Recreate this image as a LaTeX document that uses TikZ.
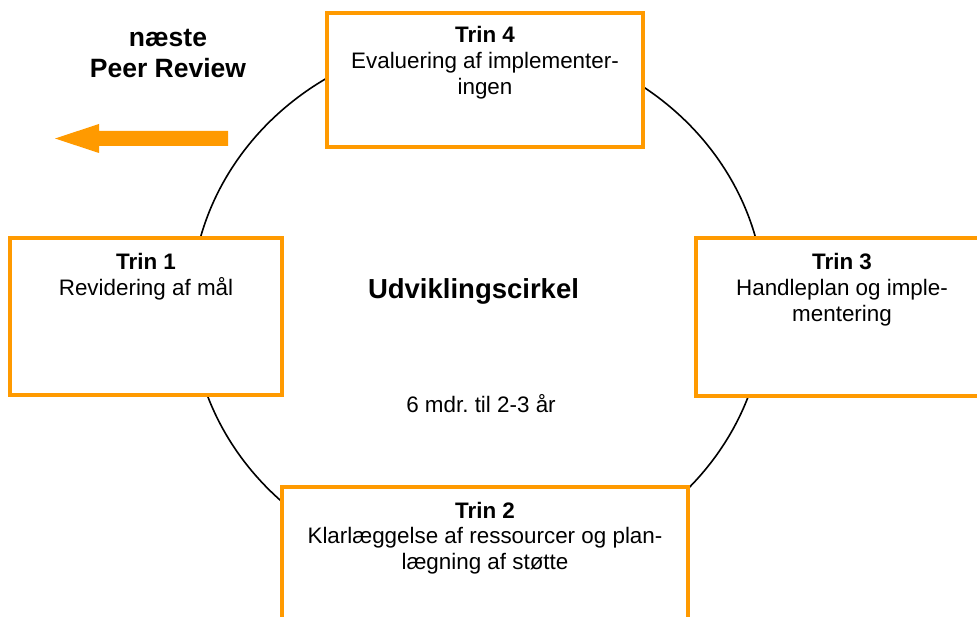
\documentclass[tikz,border=0pt]{standalone}
\usepackage{fontspec}
\setmainfont{Liberation Sans}
\frenchspacing
\definecolor{orng}{HTML}{FF9A00}
\begin{document}
\begin{tikzpicture}[x=1pt,y=-1pt,
  box/.style={draw=orng, line width=3.5pt, fill=white, inner sep=0pt, outer sep=0pt},
  lbl/.style={align=center, anchor=base, inner sep=0pt, font=\fontsize{22.4}{25.8}\selectfont},
  ring/.style={draw=black, line width=1.6pt}]
\useasboundingbox (0,0) rectangle (977,617);
\begin{scope}
\clip (0,0) rectangle (977,617);
% cycle ellipse
\draw[ring] (478,306) ellipse [x radius=287pt, y radius=268pt];
% boxes
\node[box, minimum width=272pt, minimum height=157pt] (b1) at (146,316.5) {};
\node[box, minimum width=406pt, minimum height=163pt] (b2) at (485,568.5) {};
\node[box, minimum width=292pt, minimum height=158pt] (b3) at (842,317) {};
\node[box, minimum width=316pt, minimum height=134pt] (b4) at (485,80) {};
\end{scope}
% box texts (anchor base = baseline of last line)
\node[lbl] (t1) at (146,295.8) {\textbf{Trin 1}\\Revidering af mål};
\node[lbl] (t2) at (485,569.6) {\textbf{Trin 2}\\Klarlæggelse af ressourcer og plan-\\lægning af støtte};
\node[lbl] (t3) at (842,321.6) {\textbf{Trin 3}\\Handleplan og imple-\\mentering};
\node[lbl] (t4) at (485,94.6) {\textbf{Trin 4}\\Evaluering af implementer-\\ingen};
% centre texts
\node[lbl, font=\fontsize{27.5}{32}\selectfont\bfseries] (title) at (473.5,299) {Udviklingscirkel};
\node[lbl] (dur) at (481,413) {6 mdr.\ til 2-3 år};
% next peer review
\node[lbl, font=\fontsize{26.5}{31}\selectfont\bfseries] (next) at (168,78) {næste\\Peer Review};
% arrow
\fill[orng] (228,131) -- (99,131) -- (99,124) -- (55,138.5) -- (99,153) -- (99,146) -- (228,146) -- cycle;
\end{tikzpicture}
\end{document}
